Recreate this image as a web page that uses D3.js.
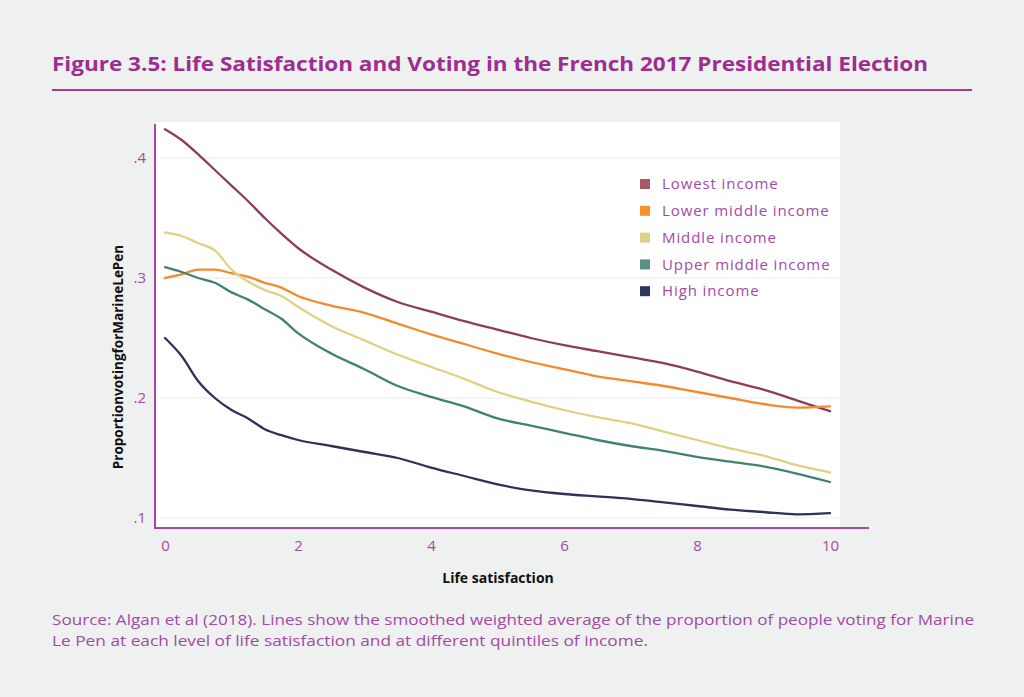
<!DOCTYPE html>
<html><head><meta charset="utf-8">
<script src="https://cdn.jsdelivr.net/npm/d3@7"></script>
<style>html,body{margin:0;padding:0;background:#eff0f0;}svg{display:block;}</style>
</head><body>
<svg id="c" width="1024" height="697"></svg>
<script>
const lifeSat = [0,0.25,0.5,0.75,1,1.25,1.5,1.75,2,2.5,3,3.5,4,4.5,5,5.5,6,6.5,7,7.5,8,8.5,9,9.5,10];
const lowestIncome = [0.424,0.415,0.403,0.390,0.377,0.364,0.350,0.337,0.325,0.307,0.292,0.280,0.272,0.264,0.257,0.250,0.244,0.239,0.234,0.229,0.222,0.214,0.207,0.198,0.189];
const lowerMiddleIncome = [0.300,0.303,0.307,0.307,0.304,0.301,0.296,0.292,0.285,0.277,0.271,0.262,0.253,0.245,0.237,0.230,0.224,0.218,0.214,0.210,0.205,0.200,0.195,0.192,0.193];
const middleIncome = [0.338,0.335,0.329,0.323,0.307,0.297,0.290,0.285,0.276,0.260,0.248,0.236,0.226,0.216,0.205,0.197,0.190,0.184,0.179,0.172,0.165,0.158,0.152,0.144,0.138];
const upperMiddleIncome = [0.309,0.305,0.300,0.296,0.288,0.282,0.274,0.266,0.254,0.237,0.224,0.210,0.201,0.193,0.183,0.177,0.171,0.165,0.160,0.156,0.151,0.147,0.143,0.137,0.130];
const highIncome = [0.250,0.235,0.214,0.200,0.190,0.183,0.174,0.169,0.165,0.160,0.155,0.150,0.142,0.135,0.128,0.123,0.120,0.118,0.116,0.113,0.110,0.107,0.105,0.103,0.104];
const seriesNames = ["Lowest income","Lower middle income","Middle income","Upper middle income","High income"];
const lineColors = ["#8c3d5c","#f28a2e","#ddd283","#3f8272","#2e3158"];
const swatchColors = ["#a35a66","#f7922e","#e0cf86","#5a8f86","#2c3560"];
const xTicks = [0,2,4,6,8,10];
const yTicks = [0.1,0.2,0.3,0.4];

const seriesValues = [lowestIncome, lowerMiddleIncome, middleIncome, upperMiddleIncome, highIncome];
const svg = d3.select("#c");
const purple = "#a24aa6";

// Title
svg.append("text").attr("x",52).attr("y",71)
  .attr("font-family","Open Sans, sans-serif").attr("font-weight","bold").attr("font-size",20)
  .attr("fill","#9c2d91").attr("textLength",876).attr("lengthAdjust","spacingAndGlyphs")
  .text("Figure 3.5: Life Satisfaction and Voting in the French 2017 Presidential Election");
svg.append("line").attr("x1",52).attr("x2",972).attr("y1",90).attr("y2",90)
  .attr("stroke","#a03c9a").attr("stroke-width",2);

// plot white area
svg.append("rect").attr("x",156).attr("y",122).attr("width",684).attr("height",406).attr("fill","#ffffff");

const x = d3.scaleLinear().domain([0,10]).range([165,830]);
const y = d3.scaleLinear().domain([0.1,0.4]).range([518,158]);

// gridlines
svg.append("g").selectAll("line").data(yTicks).join("line")
  .attr("x1",160).attr("x2",840).attr("y1",d=>y(d)).attr("y2",d=>y(d))
  .attr("stroke","#f0f0f0").attr("stroke-width",1.5);

// axes lines
svg.append("line").attr("x1",155).attr("x2",155).attr("y1",124).attr("y2",529).attr("stroke",purple).attr("stroke-width",2);
svg.append("line").attr("x1",154).attr("x2",869).attr("y1",528).attr("y2",528).attr("stroke",purple).attr("stroke-width",2);

// axes via d3
const yAxis = d3.axisLeft(y).tickValues(yTicks).tickSize(0).tickPadding(0)
  .tickFormat(d=>d3.format(".1f")(d).replace(/^0/,""));
const gy = svg.append("g").attr("transform","translate(146,0)").call(yAxis);
gy.select(".domain").remove();
gy.selectAll("text").attr("font-family","Open Sans, sans-serif").attr("font-size",15).attr("fill",purple).attr("dy","0.3em");

const xAxis = d3.axisBottom(x).tickValues(xTicks).tickSize(0).tickPadding(0).tickFormat(d3.format("d"));
const gx = svg.append("g").attr("transform","translate(0,540)").call(xAxis);
gx.select(".domain").remove();
gx.selectAll("text").attr("font-family","Open Sans, sans-serif").attr("font-size",15).attr("fill",purple).attr("dy","0.75em");

// lines
const line = d3.line().x((d,i)=>x(lifeSat[i])).y(d=>y(d)).curve(d3.curveMonotoneX);
svg.append("g").selectAll("path").data(seriesValues).join("path")
  .attr("d",d=>line(d)).attr("fill","none")
  .attr("stroke",(d,i)=>lineColors[i]).attr("stroke-width",2.3).attr("stroke-linejoin","round").attr("stroke-linecap","round");

// legend
const lg = svg.append("g");
seriesNames.forEach((n,i)=>{
  const yy = 184 + i*26.8;
  lg.append("rect").attr("x",640).attr("y",yy-5).attr("width",10).attr("height",10).attr("fill",swatchColors[i]);
  lg.append("text").attr("x",662).attr("y",yy).attr("dy","0.35em")
    .attr("font-family","Open Sans, sans-serif").attr("font-size",15).attr("letter-spacing",0.9).attr("fill",purple).text(n);
});

// axis titles
svg.append("text").attr("transform","translate(123,357) rotate(-90)").attr("text-anchor","middle")
  .attr("font-family","Open Sans, sans-serif").attr("font-weight","bold").attr("font-size",13.5).attr("fill","#111")
  .text("ProportionvotingforMarineLePen");
svg.append("text").attr("x",498).attr("y",583).attr("text-anchor","middle")
  .attr("font-family","Open Sans, sans-serif").attr("font-weight","bold").attr("font-size",14).attr("fill","#111")
  .text("Life satisfaction");

// source
svg.append("text").attr("x",52).attr("y",625)
  .attr("font-family","Open Sans, sans-serif").attr("font-size",14).attr("fill",purple)
  .attr("textLength",922).attr("lengthAdjust","spacingAndGlyphs")
  .text("Source: Algan et al (2018). Lines show the smoothed weighted average of the proportion of people voting for Marine");
svg.append("text").attr("x",52).attr("y",646)
  .attr("font-family","Open Sans, sans-serif").attr("font-size",14).attr("fill",purple)
  .attr("textLength",596).attr("lengthAdjust","spacingAndGlyphs")
  .text("Le Pen at each level of life satisfaction and at different quintiles of income.");
</script>
</body></html>
